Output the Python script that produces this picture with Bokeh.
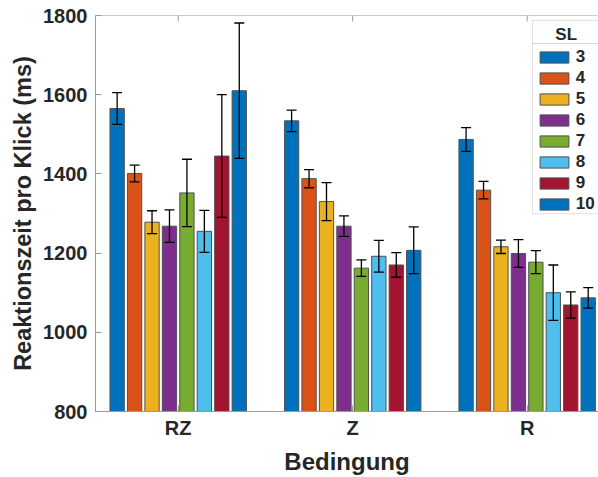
import numpy as np
from bokeh.plotting import figure
from bokeh.models import (Range1d, ColumnDataSource, Whisker, TeeHead, Legend,
                          LegendItem, FixedTicker, BoxAnnotation, Span, Label)
from bokeh.embed import file_html
from bokeh.resources import INLINE

# Conditions (x groups) and set sizes (bar series)
conditions = ["RZ", "Z", "R"]
set_sizes = ["3", "4", "5", "6", "7", "8", "9", "10"]

# Mean reaction time per click (ms), one list per condition, ordered by SL
rz_mean = [1565, 1401, 1278, 1268, 1352, 1255, 1445, 1610]
z_mean = [1534, 1388, 1330, 1268, 1162, 1192, 1170, 1207]
r_mean = [1487, 1359, 1216, 1199, 1177, 1100, 1069, 1087]

# Error bar half-widths (ms)
rz_err = [40, 21, 29, 41, 85, 53, 155, 171]
z_err = [27, 23, 48, 26, 21, 40, 31, 59]
r_err = [30, 22, 17, 35, 29, 70, 33, 26]

colors = ["#0072BD", "#D95319", "#EDB120", "#7E2F8E",
          "#77AC30", "#4DBEEE", "#A2142F", "#0072BD"]

FONT = "Liberation Sans"
TEXT = "#262626"
AXIS = "#9a9a9a"

X0, X1 = 0.526, 3.409
Y0, Y1 = 800, 1800
# frame edges on the canvas (px)
FL, FR, FT, FB = 95, 598, 15, 412.5


def px_x(px):
    return X0 + (px - FL) / (FR - FL) * (X1 - X0)


def px_y(py):
    return Y1 - (py - FT) / (FB - FT) * (Y1 - Y0)


p = figure(width=598, height=477, output_backend="svg", toolbar_location=None,
           x_range=Range1d(X0, X1), y_range=Range1d(Y0, Y1),
           min_border_left=FL, min_border_right=0, min_border_top=FT,
           min_border_bottom=477 - int(FB))
p.outline_line_color = None
p.grid.visible = False
p.background_fill_color = "white"

means = np.array([rz_mean, z_mean, r_mean])
errs = np.array([rz_err, z_err, r_err])
group_x = np.arange(1, len(conditions) + 1)
pitch = 0.1
bar_w = 0.082

# legend frame: title cell and item cell
for top, bottom in ((20, 43.3), (43.3, 214)):
    p.add_layout(BoxAnnotation(left=px_x(532), right=px_x(620),
                               top=px_y(top), bottom=px_y(bottom),
                               fill_color="white", fill_alpha=1,
                               line_color=AXIS, line_width=1, level="underlay"))

items = []
for i, sl in enumerate(set_sizes):
    xs = group_x + (i - (len(set_sizes) - 1) / 2) * pitch
    src = ColumnDataSource(dict(x=xs, top=means[:, i],
                                upper=means[:, i] + errs[:, i],
                                lower=means[:, i] - errs[:, i]))
    r = p.vbar(x="x", top="top", bottom=Y0, width=bar_w, source=src,
               fill_color=colors[i], line_color="#505050", line_width=1)
    w = Whisker(base="x", upper="upper", lower="lower", source=src,
                line_color="black", line_width=1.3, level="overlay",
                upper_head=TeeHead(size=10, line_color="black", line_width=1.3),
                lower_head=TeeHead(size=10, line_color="black", line_width=1.3))
    p.add_layout(w)
    items.append(LegendItem(label=sl, renderers=[r]))

# Axes
xa = p.xaxis[0]
xa.ticker = FixedTicker(ticks=list(group_x))
xa.major_label_overrides = {int(g): c for g, c in zip(group_x, conditions)}
xa.axis_label = "Bedingung"

ya = p.yaxis[0]
ya.ticker = FixedTicker(ticks=list(range(Y0, Y1 + 1, 200)))
ya.axis_label = "Reaktionszeit pro Klick (ms)"

for ax in (xa, ya):
    ax.axis_line_color = AXIS
    ax.major_tick_line_color = AXIS
    ax.major_tick_in = 6
    ax.major_tick_out = 0
    ax.minor_tick_line_color = None
    ax.major_label_text_font = FONT
    ax.major_label_text_font_style = "bold"
    ax.major_label_text_font_size = "20px"
    ax.major_label_text_color = TEXT
    ax.axis_label_text_font = FONT
    ax.axis_label_text_font_style = "bold"
    ax.axis_label_text_color = TEXT
xa.axis_label_text_font_size = "24px"
ya.axis_label_text_font_size = "23.5px"
xa.major_label_standoff = 5
xa.axis_label_standoff = 6
ya.major_label_standoff = 8
ya.axis_label_standoff = 4

# top frame line with inward ticks at the group positions
p.add_layout(Span(location=Y1, dimension="width", line_color=AXIS, line_width=1))
tick_len = 6 / (FB - FT) * (Y1 - Y0)
p.segment(x0=group_x, x1=group_x, y0=Y1, y1=Y1 - tick_len,
          line_color=AXIS, line_width=1)

legend = Legend(items=items, location=(535.7 - FL, FB - 215.5),
                label_text_font=FONT, label_text_font_style="bold",
                label_text_font_size="17px", label_text_color=TEXT,
                glyph_width=36, glyph_height=14, label_height=14,
                label_width=30, label_standoff=4, spacing=1,
                padding=0, margin=0,
                border_line_color=None, background_fill_alpha=0)
p.add_layout(legend, "center")

p.add_layout(Label(x=px_x(565.7), y=px_y(34), text="SL",
                   text_align="center", text_baseline="middle",
                   text_font=FONT, text_font_style="bold",
                   text_font_size="17px", text_color=TEXT))

open("out.html", "w").write(file_html(p, INLINE))
